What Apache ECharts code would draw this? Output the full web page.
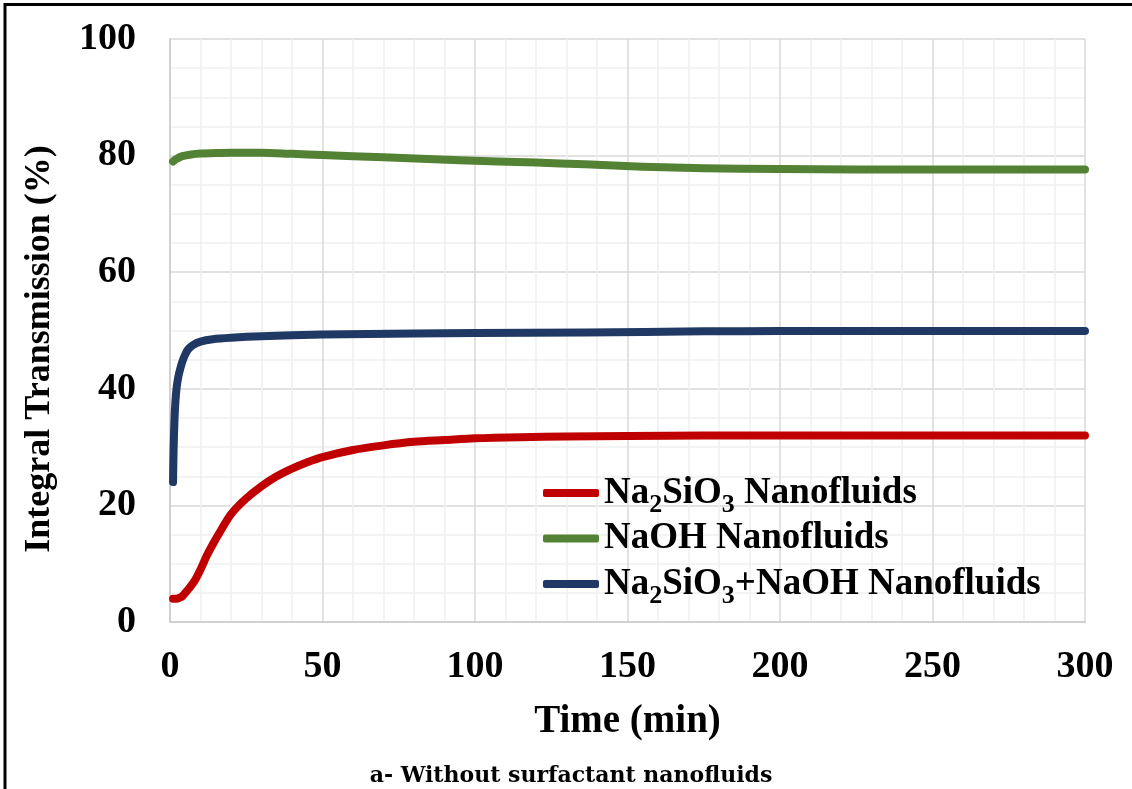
<!DOCTYPE html>
<html>
<head>
<meta charset="utf-8">
<script src="https://cdn.jsdelivr.net/npm/echarts@6/dist/echarts.min.js"></script>
<style>
html,body{margin:0;padding:0;background:#fff;}
#chart{width:1132px;height:789px;}
</style>
</head>
<body>
<div id="chart"></div>
<script>
// ---- data ----
const seriesNames = ['Na2SiO3 Nanofluids', 'NaOH Nanofluids', 'Na2SiO3+NaOH Nanofluids'];
const xTicks = [0, 50, 100, 150, 200, 250, 300];
const yTicks = [0, 20, 40, 60, 80, 100];
const xTitle = 'Time (min)';
const yTitle = 'Integral Transmission (%)';
const caption = 'a- Without surfactant nanofluids';

const redTime  = [1, 2, 3, 4, 5, 6, 8, 10, 12, 14, 17, 20, 25, 30, 35, 40, 45, 50, 60, 70, 80, 90, 100, 115, 130, 150, 175, 200, 250, 300];
const redValue = [4.0, 4.0, 4.1, 4.4, 5.0, 5.6, 7.0, 9.0, 11.3, 13.3, 16.0, 18.5, 21.2, 23.3, 25.0, 26.3, 27.4, 28.3, 29.5, 30.3, 30.9, 31.2, 31.5, 31.7, 31.8, 31.9, 32.0, 32.0, 32.0, 32.0];

const greenTime  = [1, 2, 4, 7, 10, 15, 20, 30, 40, 50, 70, 95, 120, 136, 155, 175, 200, 250, 300];
const greenValue = [79.0, 79.4, 79.9, 80.2, 80.35, 80.45, 80.5, 80.5, 80.3, 80.1, 79.7, 79.2, 78.8, 78.5, 78.1, 77.85, 77.7, 77.6, 77.6];

const blueTime  = [1, 1.2, 1.5, 1.8, 2.2, 2.7, 3.3, 4, 5, 6, 7.5, 10, 14, 20, 30, 50, 80, 100, 136, 175, 200, 250, 300];
const blueValue = [24, 30, 35, 38, 40.3, 42.0, 43.3, 44.6, 45.9, 46.8, 47.5, 48.1, 48.5, 48.75, 49.0, 49.3, 49.5, 49.55, 49.65, 49.85, 49.9, 49.9, 49.9];

const colors = ['#C00000', '#548235', '#203864'];

function pairs(t, v) { return t.map((x, i) => [x, v[i]]); }

const FONT = '"Liberation Serif", "DejaVu Serif", serif';
const FONT2 = '"DejaVu Serif", "Liberation Serif", serif';

const legendLabels = {
  'Na2SiO3 Nanofluids': '{n|Na}{s|2}{n|SiO}{s|3}{n| Nanofluids}',
  'NaOH Nanofluids': '{n|NaOH Nanofluids}',
  'Na2SiO3+NaOH Nanofluids': '{n|Na}{s|2}{n|SiO}{s|3}{n|+NaOH Nanofluids}'
};

const chart = echarts.init(document.getElementById('chart'));
const option = {
  backgroundColor: '#ffffff',
  animation: false,
  grid: { left: 170, right: 47, top: 39, bottom: 167, containLabel: false },
  xAxis: {
    type: 'value', min: 0, max: 300, interval: 50,
    name: xTitle, nameLocation: 'middle', nameGap: 80,
    nameTextStyle: { fontFamily: FONT, fontWeight: 'bold', fontSize: 39, color: '#000' },
    axisLine: { show: true, lineStyle: { color: '#d0d0d0', width: 2 } },
    axisTick: { show: false },
    axisLabel: { fontFamily: FONT, fontWeight: 'bold', fontSize: 38, color: '#000', margin: 26,
      formatter: v => xTicks.includes(v) ? String(v) : '' },
    splitLine: { show: true, lineStyle: { color: '#d9d9d9', width: 1.5 } },
    minorTick: { show: false, splitNumber: 5 },
    minorSplitLine: { show: true, lineStyle: { color: '#efefef', width: 1.5 } }
  },
  yAxis: {
    type: 'value', min: 0, max: 100, interval: 20,
    axisLine: { show: true, lineStyle: { color: '#d0d0d0', width: 2 } },
    axisTick: { show: false },
    axisLabel: { fontFamily: FONT, fontWeight: 'bold', fontSize: 38, color: '#000', margin: 34,
      formatter: v => yTicks.includes(v) ? String(v) : '' },
    splitLine: { show: true, lineStyle: { color: '#d9d9d9', width: 1.5 } },
    minorTick: { show: false, splitNumber: 4 },
    minorSplitLine: { show: true, lineStyle: { color: '#efefef', width: 1.5 } }
  },
  legend: {
    orient: 'vertical', left: 538, top: 463,
    itemWidth: 56, itemHeight: 8, itemGap: -2,
    icon: 'roundRect',
    data: seriesNames,
    formatter: name => legendLabels[name],
    textStyle: {
      color: '#000', padding: 0,
      rich: {
        n: { fontFamily: FONT, fontWeight: 'bold', fontSize: 37, color: '#000', lineHeight: 38, padding: [4, 0, 4, 0] },
        s: { fontFamily: FONT, fontWeight: 'bold', fontSize: 26, color: '#000', lineHeight: 22, padding: [24, 0, 0, 0] }
      }
    }
  },
  graphic: [
    { type: 'line', shape: { x1: 5, y1: 3, x2: 5, y2: 789 }, style: { stroke: '#000', lineWidth: 3 } },
    { type: 'line', shape: { x1: 4, y1: 4.5, x2: 1132, y2: 4.5 }, style: { stroke: '#000', lineWidth: 3 } },
    { type: 'text', x: 40, y: 349, rotation: Math.PI / 2,
      style: { text: yTitle, fontFamily: FONT, fontWeight: 'bold', fontSize: 36, fill: '#000', align: 'center', verticalAlign: 'middle' } },
    { type: 'text', x: 571, y: 776,
      style: { text: caption, fontFamily: FONT2, fontWeight: 'bold', fontSize: 22, fill: '#000', align: 'center', verticalAlign: 'middle' } }
  ],
  series: [
    { name: seriesNames[0], type: 'line', data: pairs(redTime, redValue), showSymbol: false, symbol: 'none',
      smooth: 0.3, color: colors[0],
      lineStyle: { width: 8, color: colors[0], cap: 'round', join: 'round' } },
    { name: seriesNames[1], type: 'line', data: pairs(greenTime, greenValue), showSymbol: false, symbol: 'none',
      smooth: 0.3, color: colors[1],
      lineStyle: { width: 8, color: colors[1], cap: 'round', join: 'round' } },
    { name: seriesNames[2], type: 'line', data: pairs(blueTime, blueValue), showSymbol: false, symbol: 'none',
      smooth: 0.3, color: colors[2],
      lineStyle: { width: 8, color: colors[2], cap: 'round', join: 'round' } }
  ]
};
chart.setOption(option);
</script>
</body>
</html>
